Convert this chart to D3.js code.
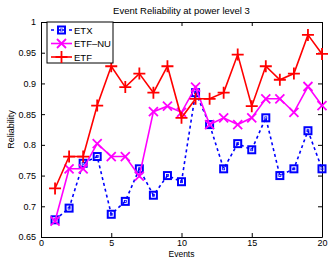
<!DOCTYPE html>
<html>
<head>
<meta charset="utf-8">
<script src="https://d3js.org/d3.v7.min.js"></script>
<style>
  body { margin: 0; background: #fff; }
  svg { display: block; font-family: "Liberation Sans", Arial, sans-serif; }
</style>
</head>
<body>
<div id="chart"></div>
<script>
// data
var events = d3.range(1, 21);
var etx = [0.678, 0.697, 0.770, 0.781, 0.687, 0.708, 0.761, 0.718, 0.750, 0.740,
           0.885, 0.833, 0.761, 0.802, 0.792, 0.844, 0.750, 0.761, 0.823, 0.761];
var etfNu = [0.676, 0.761, 0.761, 0.802, 0.781, 0.781, 0.749, 0.854, 0.863, 0.853,
             0.894, 0.833, 0.844, 0.833, 0.844, 0.875, 0.875, 0.853, 0.895, 0.864];
var etf = [0.729, 0.781, 0.781, 0.864, 0.928, 0.894, 0.916, 0.885, 0.928, 0.844,
           0.875, 0.875, 0.885, 0.947, 0.863, 0.928, 0.906, 0.916, 0.979, 0.948];
var xTicks = [0, 5, 10, 15, 20];
var yTicks = [0.65, 0.7, 0.75, 0.8, 0.85, 0.9, 0.95, 1];

var seriesList = [
  {name: "ETX", values: etx, color: "#0000ff", dash: "3,3", marker: "square"},
  {name: "ETF\u2013NU", values: etfNu, color: "#ff00ff", dash: null, marker: "cross"},
  {name: "ETF", values: etf, color: "#ff0000", dash: null, marker: "plus"}
];

var W = 328, H = 257;
var margin = {top: 22, right: 6, bottom: 20, left: 41};
var w = W - margin.left - margin.right;
var h = H - margin.top - margin.bottom;

var svg = d3.select("#chart").append("svg")
    .attr("width", W)
    .attr("height", H);

var x = d3.scaleLinear().domain([0, 20]).range([0, w]);
var y = d3.scaleLinear().domain([0.65, 1]).range([h, 0]);

var g = svg.append("g")
    .attr("transform", "translate(" + margin.left + "," + margin.top + ")");

// axes with inside ticks, mirrored on top/right
g.append("g")
    .attr("transform", "translate(0," + h + ")")
    .call(d3.axisBottom(x).tickValues(xTicks).tickSizeInner(-4).tickSizeOuter(0).tickPadding(3)
        .tickFormat(d3.format("d")));
g.append("g")
    .call(d3.axisLeft(y).tickValues(yTicks).tickSizeInner(-4).tickSizeOuter(0).tickPadding(5)
        .tickFormat(function (d) { return d === 1 ? "1" : d3.format(".2~f")(d); }));
g.append("g")
    .call(d3.axisTop(x).tickValues(xTicks).tickSizeInner(-4).tickSizeOuter(0).tickFormat(""));
g.append("g")
    .attr("transform", "translate(" + w + ",0)")
    .call(d3.axisRight(y).tickValues(yTicks).tickSizeInner(-4).tickSizeOuter(0).tickFormat(""));

g.selectAll(".domain").attr("stroke", "#000").attr("stroke-width", 1);
g.selectAll(".tick line").attr("stroke", "#000");
g.selectAll(".tick text").attr("font-size", 9).attr("fill", "#000")
    .attr("font-family", "Liberation Sans, Arial, sans-serif");

// draws a marker centred on (cx, cy)
function drawMarker(sel, type, cx, cy, color) {
  if (type === "square") {
    sel.append("rect")
        .attr("x", cx - 3.5).attr("y", cy - 3.5)
        .attr("width", 7).attr("height", 7)
        .attr("fill", "none").attr("stroke", color).attr("stroke-width", 2);
    sel.append("rect")
        .attr("x", cx - 1).attr("y", cy - 1)
        .attr("width", 2).attr("height", 2)
        .attr("fill", "none").attr("stroke", color).attr("stroke-width", 0.8);
  } else if (type === "cross") {
    var s = 4.5;
    sel.append("path")
        .attr("d", "M" + (cx - s) + "," + (cy - s) + "L" + (cx + s) + "," + (cy + s) +
                   "M" + (cx - s) + "," + (cy + s) + "L" + (cx + s) + "," + (cy - s))
        .attr("stroke", color).attr("stroke-width", 1.8).attr("fill", "none");
  } else {
    var p = 6;
    sel.append("path")
        .attr("d", "M" + (cx - p) + "," + cy + "L" + (cx + p) + "," + cy +
                   "M" + cx + "," + (cy - p) + "L" + cx + "," + (cy + p))
        .attr("stroke", color).attr("stroke-width", 1.8).attr("fill", "none");
  }
}

var line = d3.line()
    .x(function (d, i) { return x(events[i]); })
    .y(function (d) { return y(d); });

seriesList.forEach(function (s) {
  var sg = g.append("g");
  sg.append("path")
      .datum(s.values)
      .attr("d", line)
      .attr("fill", "none")
      .attr("stroke", s.color)
      .attr("stroke-width", 1.6)
      .attr("stroke-dasharray", s.dash);
  s.values.forEach(function (v, i) {
    drawMarker(sg, s.marker, x(events[i]), y(v), s.color);
  });
});

// legend
var lg = g.append("g").attr("transform", "translate(6,0)");
lg.append("rect")
    .attr("x", 0).attr("y", 0)
    .attr("width", 66).attr("height", 41)
    .attr("fill", "#fff").attr("stroke", "#000").attr("stroke-width", 1);
seriesList.forEach(function (s, i) {
  var ly = 8 + i * 13.5;
  lg.append("line")
      .attr("x1", 4).attr("x2", 25)
      .attr("y1", ly).attr("y2", ly)
      .attr("stroke", s.color).attr("stroke-width", 1.6)
      .attr("stroke-dasharray", s.dash);
  drawMarker(lg, s.marker, 14.5, ly, s.color);
  lg.append("text")
      .attr("x", 27).attr("y", ly + 3.5)
      .attr("font-size", 9.5)
      .text(s.name);
});

// title and labels
svg.append("text")
    .attr("x", margin.left + w / 2)
    .attr("y", 14)
    .attr("text-anchor", "middle")
    .attr("font-size", 9.5)
    .text("Event Reliability at power level 3");

svg.append("text")
    .attr("transform", "translate(14," + (margin.top + h / 2) + ") rotate(-90)")
    .attr("text-anchor", "middle")
    .attr("font-size", 9)
    .text("Reliability");

svg.append("text")
    .attr("x", margin.left + w / 2)
    .attr("y", H - 0.5)
    .attr("text-anchor", "middle")
    .attr("font-size", 8.5)
    .text("Events");
</script>
</body>
</html>
